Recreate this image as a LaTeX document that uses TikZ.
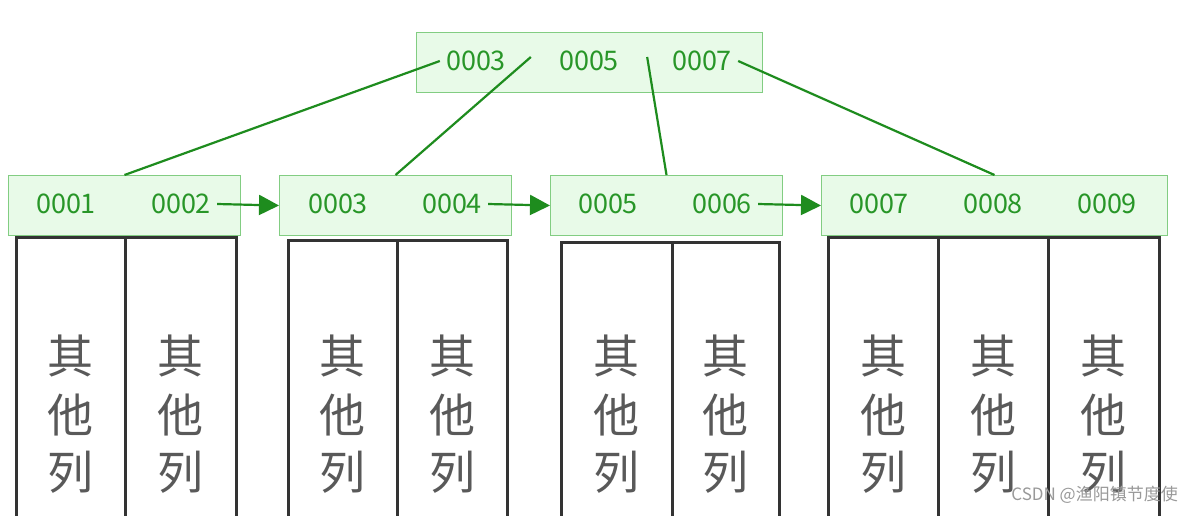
\documentclass[tikz,border=0pt]{standalone}
\usepackage{fontspec}
\setmainfont{Noto Sans CJK SC}
\usetikzlibrary{arrows.meta}
\definecolor{keyfill}{RGB}{232,250,232}
\definecolor{keydraw}{RGB}{130,205,130}
\definecolor{keytext}{RGB}{40,150,40}
\definecolor{linkgreen}{RGB}{30,140,30}
\tikzset{
  keybox/.style={draw=keydraw, fill=keyfill, line width=1pt, inner sep=0pt, anchor=north west},
  keytxt/.style={text=keytext, font=\fontsize{27}{27}\selectfont, inner sep=0pt},
  colbox/.style={draw=black!80, line width=3pt},
  coltxt/.style={text=black!65, font=\fontsize{46}{46}\selectfont, inner sep=0pt},
  link/.style={draw=linkgreen, line width=2.2pt},
  nextarrow/.style={link, -{Triangle[length=20pt,width=20pt]}}
}
\begin{document}
\begin{tikzpicture}[x=1pt,y=-1pt]
  \useasboundingbox[fill=white] (0,0) rectangle (1183,515);
  % root
  \node[keybox, minimum width=346pt, minimum height=60pt] (root) at (416,32) {};
  \foreach \k/\x in {3/476,5/589,7/702} {
    \node[keytxt] (r\k) at (\x,61) {000\k};
  }
  % leaves
  \node[keybox, minimum width=232pt, minimum height=60pt] (l1) at (8,175) {};
  \node[keybox, minimum width=232pt, minimum height=60pt] (l2) at (279,175) {};
  \node[keybox, minimum width=232pt, minimum height=60pt] (l3) at (550,175) {};
  \node[keybox, minimum width=346pt, minimum height=60pt] (l4) at (821,175) {};
  \foreach \k/\x in {1/66,2/181,3/338,4/452,5/608,6/722,7/879,8/993,9/1107} {
    \node[keytxt] (k\k) at (\x,204) {000\k};
  }
  % other columns
  \foreach \a/\b/\t in {16/125/237,125/236/237,288/397/240,397/507/240,561/672/242,672/779/242,828/938/237,938/1048/237,1048/1159/237} {
    \draw[colbox] (\a,530) -- (\a,\t) -- (\b,\t) -- (\b,530);
    \node[coltxt] at ({(\a+\b)/2},356) {其};
    \node[coltxt] at ({(\a+\b)/2},415) {他};
    \node[coltxt] at ({(\a+\b)/2},472) {列};
  }
  % tree links
  \draw[link] ([xshift=-6pt]r3.west) -- (l1.north);
  \draw[link] ([xshift=-28pt,yshift=4pt]r5.west) -- (l2.north);
  \draw[link] ([xshift=28pt,yshift=4pt]r5.east) -- (l3.north);
  \draw[link] ([xshift=6pt]r7.east) -- (l4.north);
  % leaf chain
  \draw[nextarrow] ([xshift=6pt]k2.east) -- (l2.west);
  \draw[nextarrow] ([xshift=6pt]k4.east) -- (l3.west);
  \draw[nextarrow] ([xshift=6pt]k6.east) -- (l4.west);
  \node[text=black!40, font=\fontsize{17}{17}\selectfont, anchor=east, inner sep=0pt] (mark) at (1178,495) {CSDN @渔阳镇节度使};
\end{tikzpicture}
\end{document}
